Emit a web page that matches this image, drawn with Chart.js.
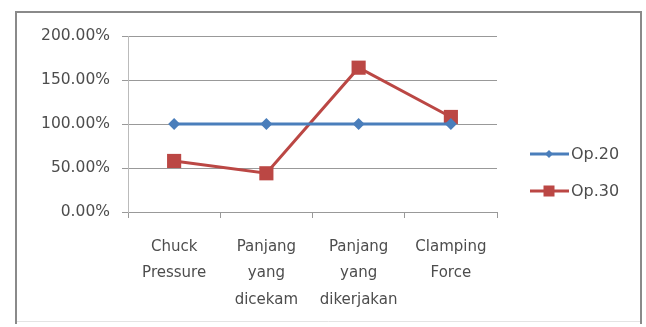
<!DOCTYPE html>
<html>
<head>
<meta charset="utf-8">
<script src="https://cdn.jsdelivr.net/npm/chart.js@4"></script>
<style>
html,body{margin:0;padding:0;background:#fff;}
#wrap{position:relative;width:646px;height:327px;}
</style>
</head>
<body>
<div id="wrap"><canvas id="c" width="646" height="327"></canvas></div>
<script>
const categories = [["Chuck","Pressure"],["Panjang","yang","dicekam"],["Panjang","yang","dikerjakan"],["Clamping","Force"]];
const op20 = [100, 100, 100, 100];
const op30 = [58, 44, 164, 108];
const yTicks = [0, 50, 100, 150, 200];
const seriesNames = ["Op.20", "Op.30"];

const FONT = "'DejaVu Sans', sans-serif";
const TEXT = '#4d4d4d';
const blue = '#4a7ebb';
const red = '#bb4744';

const frame = {
  id: 'frame',
  beforeDraw(chart) {
    const ctx = chart.ctx;
    ctx.save();
    ctx.fillStyle = '#fff';
    ctx.fillRect(0,0,chart.width,chart.height);
    ctx.strokeStyle = '#8a8a8a';
    ctx.lineWidth = 2;
    ctx.beginPath();
    ctx.moveTo(16, 324); ctx.lineTo(16, 12); ctx.lineTo(641, 12); ctx.lineTo(641, 324);
    ctx.stroke();
    ctx.strokeStyle = '#e4e4e4';
    ctx.lineWidth = 1;
    ctx.beginPath(); ctx.moveTo(17, 321.5); ctx.lineTo(640, 321.5); ctx.stroke();
    ctx.restore();
  }
};

const legendPlugin = {
  id: 'customLegend',
  afterDraw(chart) {
    const ctx = chart.ctx;
    ctx.save();
    chart.data.datasets.forEach((ds, i) => {
      const y = 154 + i * 37;
      ctx.strokeStyle = ds.borderColor;
      ctx.lineWidth = 3;
      ctx.beginPath(); ctx.moveTo(530, y); ctx.lineTo(569, y); ctx.stroke();
      ctx.fillStyle = ds.backgroundColor;
      if (i === 0) {
        ctx.beginPath();
        ctx.moveTo(549, y - 4); ctx.lineTo(553, y); ctx.lineTo(549, y + 4); ctx.lineTo(545, y);
        ctx.closePath(); ctx.fill();
      } else {
        ctx.fillRect(543.5, y - 5.5, 11, 11);
      }
      ctx.fillStyle = TEXT;
      ctx.font = "16px " + FONT;
      ctx.textBaseline = 'middle';
      ctx.textAlign = 'left';
      ctx.fillText(ds.label, 571, y + 1);
    });
    ctx.restore();
  }
};

new Chart(document.getElementById('c'), {
  type: 'line',
  data: {
    labels: categories,
    datasets: [
      { label: seriesNames[0], data: op20, borderColor: blue, backgroundColor: blue, borderWidth: 3,
        pointStyle: 'rectRot', pointRadius: 6, pointBorderWidth: 0, tension: 0 },
      { label: seriesNames[1], data: op30, borderColor: red, backgroundColor: red, borderWidth: 3,
        pointStyle: 'rect', pointRadius: 10, pointBorderWidth: 0, tension: 0 }
    ]
  },
  plugins: [frame, legendPlugin],
  options: {
    responsive: false,
    animation: false,
    devicePixelRatio: 1,
    layout: { padding: { left: 0, right: 149, top: 36, bottom: 0 } },
    plugins: { legend: { display: false }, tooltip: { enabled: false } },
    scales: {
      x: {
        offset: true,
        grid: { offset: true, drawOnChartArea: false, drawTicks: true, tickLength: 6, color: '#999', lineWidth: 1 },
        border: { display: true, color: '#999', width: 1 },
        ticks: { color: TEXT, font: { family: FONT, size: 15, lineHeight: 1.75 }, padding: 16, maxRotation: 0, autoSkip: false },
        afterFit(s) { s.height = 115; }
      },
      y: {
        min: 0, max: 200,
        afterBuildTicks(s) { s.ticks = yTicks.map(v => ({ value: v })); },
        grid: { color: '#999', lineWidth: 1, tickLength: 6, drawTicks: true },
        border: { display: true, color: '#bbb', width: 1 },
        ticks: { color: TEXT, font: { family: FONT, size: 15.5 }, padding: 12,
          callback: v => v.toFixed(2) + '%' },
        afterFit(s) { s.width = 128; }
      }
    }
  }
});
</script>
</body>
</html>
